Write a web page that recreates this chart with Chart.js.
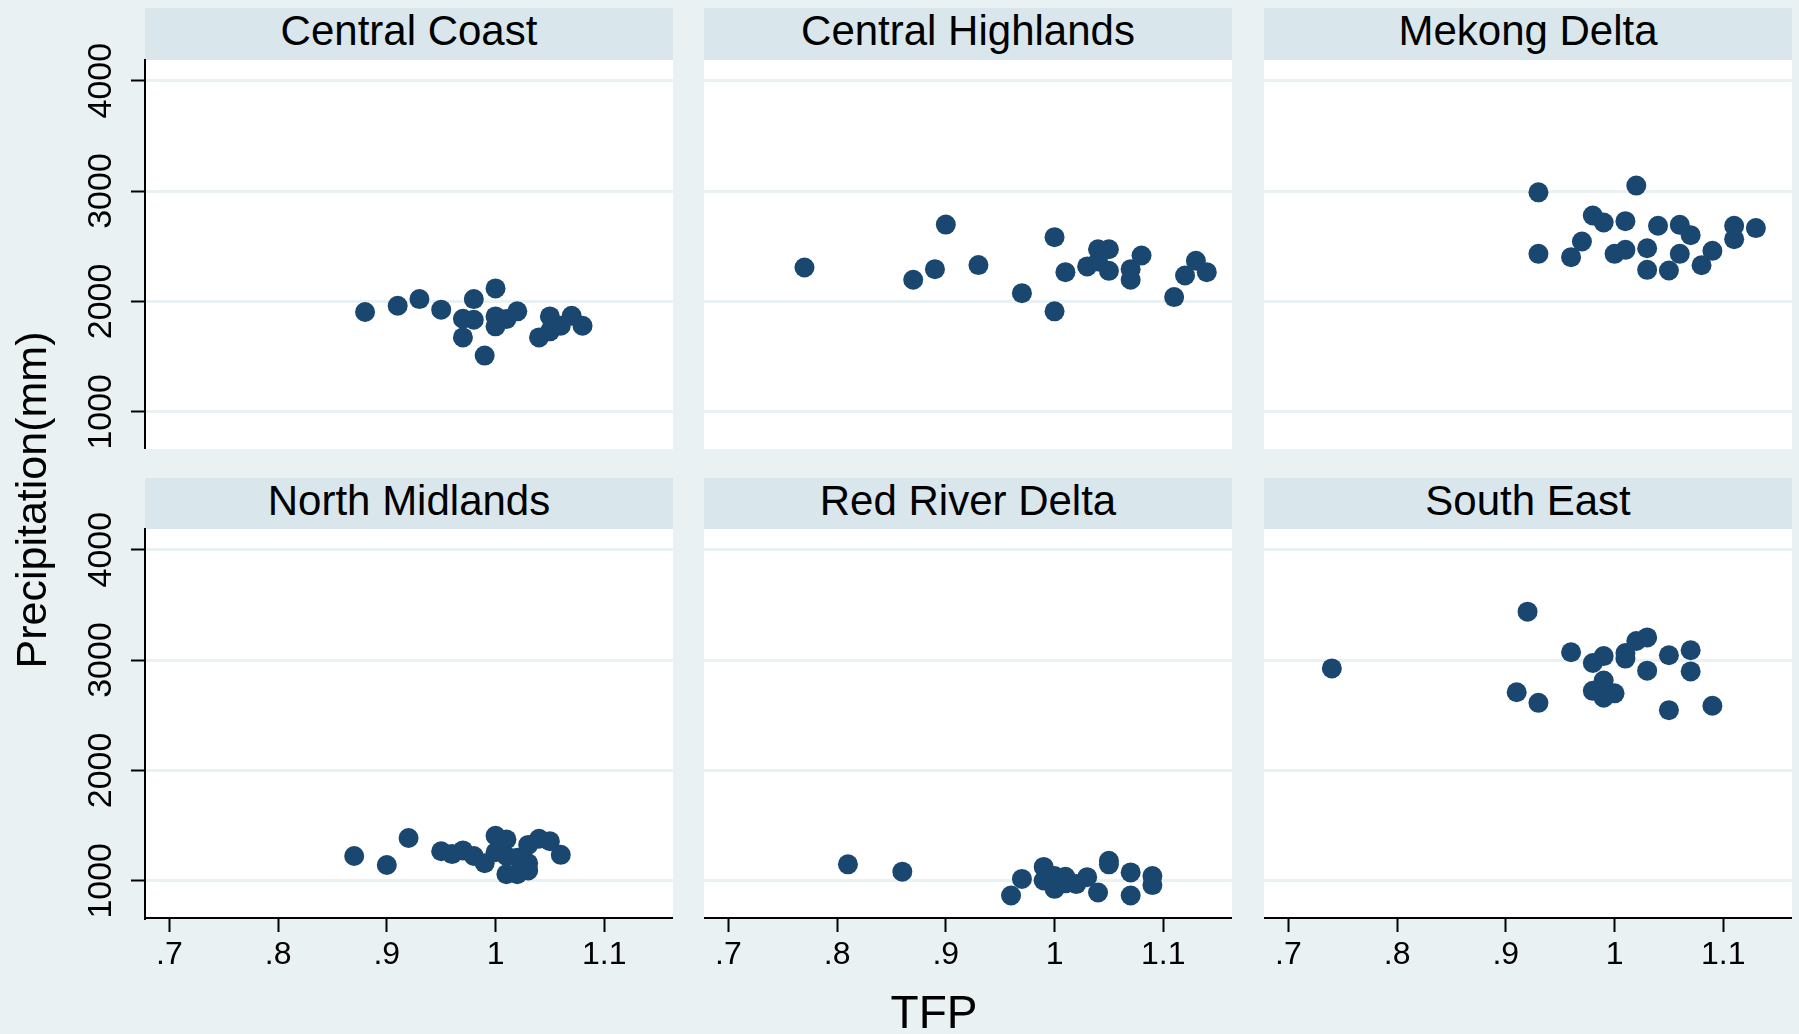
<!DOCTYPE html>
<html>
<head>
<meta charset="utf-8">
<script src="https://cdn.jsdelivr.net/npm/chart.js@4.4.1/dist/chart.umd.min.js"></script>
<style>
  body { margin: 0; background: #e9f1f3; font-family: "Liberation Sans", Arial, sans-serif; }
  #page { position: relative; width: 1799px; height: 1034px; overflow: hidden; background: #e9f1f3; }
  canvas { position: absolute; }
  .head { position: absolute; background: #d9e6eb; color: #000; font-size: 42px; line-height: 46px; text-align: center; }
  .axtitle { position: absolute; color: #000; text-align: center; white-space: nowrap; }
</style>
</head>
<body>
<div id="page"></div>
<script>
// facets, in drawing order (row by row)
const regions = ["Central Coast", "Central Highlands", "Mekong Delta",
                 "North Midlands", "Red River Delta", "South East"];

const xTicks = [0.7, 0.8, 0.9, 1, 1.1];
const xTickLabels = [".7", ".8", ".9", "1", "1.1"];
const yTicks = [1000, 2000, 3000, 4000];

// TFP / precipitation (mm) per region
const centralCoastTFP = [0.88, 0.91, 0.93, 0.95, 0.98, 1.00, 0.97, 0.98, 1.00, 1.00, 1.01, 1.02, 0.97, 0.99, 1.04, 1.05, 1.05, 1.06, 1.07, 1.08];
const centralCoastPrecip = [1904, 1961, 2021, 1925, 2021, 2118, 1843, 1834, 1864, 1774, 1840, 1910, 1674, 1509, 1674, 1864, 1729, 1780, 1870, 1780];

const centralHighlandsTFP = [0.77, 0.87, 0.89, 0.90, 0.93, 0.97, 1.00, 1.00, 1.01, 1.03, 1.04, 1.05, 1.04, 1.05, 1.07, 1.07, 1.08, 1.11, 1.12, 1.13, 1.14];
const centralHighlandsPrecip = [2307, 2196, 2292, 2696, 2329, 2075, 2582, 1910, 2265, 2317, 2473, 2473, 2362, 2277, 2292, 2196, 2416, 2039, 2235, 2368, 2265];

const mekongDeltaTFP = [0.93, 0.93, 1.02, 0.98, 0.99, 1.01, 0.97, 0.96, 1.00, 1.01, 1.03, 1.03, 1.04, 1.06, 1.07, 1.06, 1.05, 1.08, 1.09, 1.11, 1.11, 1.13];
const mekongDeltaPrecip = [2988, 2431, 3049, 2778, 2715, 2727, 2543, 2401, 2431, 2467, 2482, 2286, 2685, 2694, 2600, 2431, 2280, 2328, 2458, 2685, 2564, 2664];

const northMidlandsTFP = [0.87, 0.90, 0.92, 0.95, 0.96, 0.97, 0.98, 0.99, 1.00, 1.01, 1.00, 1.01, 1.01, 1.02, 1.03, 1.03, 1.03, 1.04, 1.05, 1.06, 1.02];
const northMidlandsPrecip = [1225, 1143, 1388, 1268, 1242, 1275, 1225, 1159, 1408, 1375, 1259, 1225, 1060, 1060, 1093, 1159, 1325, 1381, 1358, 1235, 1209];

const redRiverDeltaTFP = [0.81, 0.86, 0.96, 0.97, 0.99, 0.99, 1.00, 1.00, 1.01, 1.01, 1.02, 1.03, 1.04, 1.05, 1.05, 1.07, 1.07, 1.09, 1.09];
const redRiverDeltaPrecip = [1149, 1083, 867, 1017, 1126, 1003, 927, 1043, 1036, 977, 970, 1033, 894, 1182, 1149, 1076, 867, 1043, 961];

const southEastTFP = [0.74, 0.92, 0.91, 0.93, 0.96, 0.98, 0.99, 0.99, 0.98, 0.99, 1.00, 1.01, 1.01, 1.02, 1.03, 1.03, 1.05, 1.07, 1.07, 1.05, 1.09];
const southEastPrecip = [2924, 3438, 2708, 2612, 3070, 2973, 3036, 2814, 2721, 2658, 2698, 3063, 3013, 3172, 3205, 2904, 3043, 3089, 2897, 2546, 2586];

const tfpByRegion = [centralCoastTFP, centralHighlandsTFP, mekongDeltaTFP, northMidlandsTFP, redRiverDeltaTFP, southEastTFP];
const precipByRegion = [centralCoastPrecip, centralHighlandsPrecip, mekongDeltaPrecip, northMidlandsPrecip, redRiverDeltaPrecip, southEastPrecip];

// layout of the grid of panels
const colLeft = [145, 704, 1264];
const plotW = 528, plotH = 389;
const rowTop = [60, 529];
const headTop = [8, 478];
const headH = 52;
const topRoom = 40;   // extra canvas above the plot in column 1, for the rotated 4000 label
const navy = '#1a476f';
const page = document.getElementById('page');

// white plot region
const plotBg = {
  id: 'plotBg',
  beforeDraw(chart) {
    const a = chart.chartArea;
    const ctx = chart.ctx;
    ctx.save();
    ctx.fillStyle = '#ffffff';
    ctx.fillRect(a.left, a.top, a.right - a.left, a.bottom - a.top);
    ctx.restore();
  }
};

regions.forEach((name, i) => {
  const col = i % 3, row = Math.floor(i / 3);
  const firstCol = col === 0, bottomRow = row === 1;

  const head = document.createElement('div');
  head.className = 'head';
  head.style.left = colLeft[col] + 'px';
  head.style.top = headTop[row] + 'px';
  head.style.width = plotW + 'px';
  head.style.height = headH + 'px';
  head.textContent = name;
  page.appendChild(head);

  const yAxisW = firstCol ? colLeft[0] : 0;
  const padTop = firstCol ? topRoom : 0;
  const xAxisH = bottomRow ? 1034 - rowTop[1] - plotH : 0;
  const cw = yAxisW + plotW;
  const ch = padTop + plotH + xAxisH;
  const canvas = document.createElement('canvas');
  canvas.width = cw;
  canvas.height = ch;
  canvas.style.left = (firstCol ? 0 : colLeft[col]) + 'px';
  canvas.style.top = (rowTop[row] - padTop) + 'px';
  canvas.style.width = cw + 'px';
  canvas.style.height = ch + 'px';
  page.appendChild(canvas);

  const pts = tfpByRegion[i].map((x, k) => ({ x: x, y: precipByRegion[i][k] }));

  new Chart(canvas, {
    type: 'scatter',
    data: {
      datasets: [{
        label: name,
        data: pts,
        backgroundColor: navy,
        borderWidth: 0,
        pointRadius: 10,
        pointHoverRadius: 10
      }]
    },
    plugins: [plotBg],
    options: {
      responsive: false,
      animation: false,
      events: [],
      layout: { padding: { top: padTop, left: 0, right: 0, bottom: 0 }, autoPadding: false },
      plugins: { legend: { display: false }, tooltip: { enabled: false } },
      scales: {
        x: {
          type: 'linear',
          display: bottomRow,
          min: 0.6776,
          max: 1.1632,
          afterBuildTicks: s => { s.ticks = xTicks.map(v => ({ value: v })); },
          afterFit: s => { s.height = xAxisH; s.paddingLeft = 0; s.paddingRight = 0; },
          border: { display: true, color: '#000', width: 2 },
          grid: { display: true, drawOnChartArea: false, drawTicks: true, tickLength: 14, tickWidth: 2, tickColor: '#000' },
          ticks: {
            autoSkip: false, maxRotation: 0, minRotation: 0, padding: 4, color: '#000',
            font: { family: 'Liberation Sans', size: 32 },
            callback: (v, k) => xTickLabels[k]
          }
        },
        y: {
          type: 'linear',
          position: 'left',
          min: 663,
          max: 4187,
          afterBuildTicks: s => { s.ticks = yTicks.map(v => ({ value: v })); },
          afterFit: s => { s.width = yAxisW; s.paddingTop = 0; s.paddingBottom = 0; },
          border: { display: firstCol, color: '#000', width: 2 },
          grid: {
            display: true, drawOnChartArea: true, color: '#e9f1f3', lineWidth: 3,
            drawTicks: firstCol, tickLength: 14, tickWidth: 2, tickColor: '#000'
          },
          ticks: {
            display: firstCol, autoSkip: false, minRotation: 90, maxRotation: 90,
            crossAlign: 'center', padding: -8, color: '#000',
            font: { family: 'Liberation Sans', size: 34 },
            callback: v => String(v)
          }
        }
      }
    }
  });
});

// shared axis titles
const yTitle = document.createElement('div');
yTitle.className = 'axtitle';
yTitle.textContent = 'Precipitation(mm)';
Object.assign(yTitle.style, {
  fontSize: '43px', lineHeight: '46px', width: '420px', height: '46px',
  left: (31 - 210) + 'px', top: (500 - 23) + 'px', transform: 'rotate(-90deg)'
});
page.appendChild(yTitle);

const xTitle = document.createElement('div');
xTitle.className = 'axtitle';
xTitle.textContent = 'TFP';
Object.assign(xTitle.style, {
  fontSize: '46px', lineHeight: '46px', width: '200px',
  left: (934 - 100) + 'px', top: '989px'
});
page.appendChild(xTitle);
</script>
</body>
</html>
